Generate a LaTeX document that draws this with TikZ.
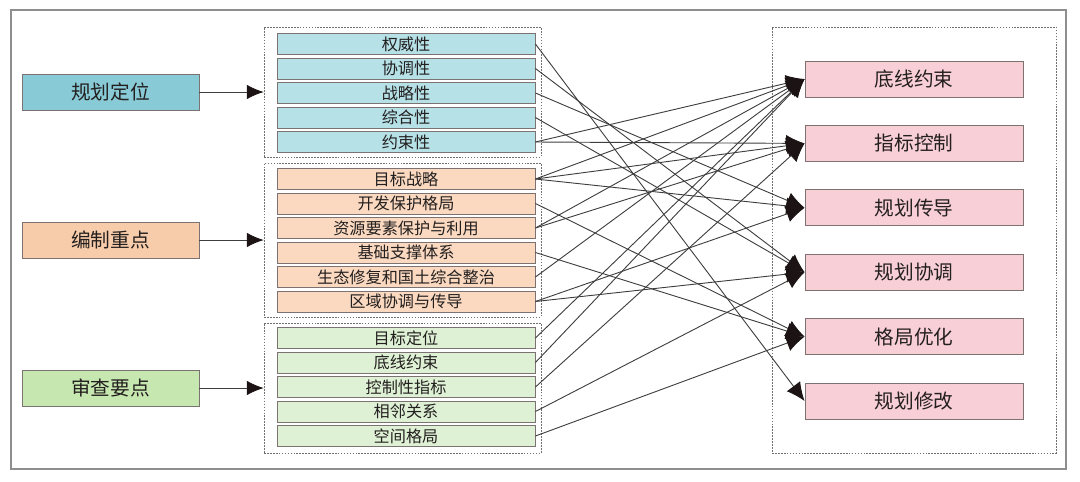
\documentclass[tikz,border=0pt]{standalone}
\usepackage{fontspec}
\setmainfont{Noto Sans CJK SC}
\usetikzlibrary{positioning,arrows.meta,fit}
\definecolor{frameGray}{HTML}{8E8E8E}
\definecolor{textDark}{HTML}{231F1F}
\definecolor{lineEdge}{HTML}{7D7272}
\definecolor{lineFlow}{HTML}{3E3E3E}
\definecolor{tipDark}{HTML}{1C1414}
\definecolor{lineDash}{HTML}{6F6F6F}
\definecolor{blueHead}{HTML}{88CBD7}
\definecolor{blueItem}{HTML}{B6E1E7}
\definecolor{orangeHead}{HTML}{F7CCAA}
\definecolor{orangeItem}{HTML}{FAD9C0}
\definecolor{greenHead}{HTML}{C6E7B0}
\definecolor{greenItem}{HTML}{DEF1D5}
\definecolor{pinkGoal}{HTML}{F8CFD7}

\begin{document}
\begin{tikzpicture}[
          every node/.style={text=textDark,align=center,inner sep=0pt},
          head/.style={draw=lineEdge,line width=0.6pt,
                       minimum width=4.425cm,minimum height=0.9cm,
                       font=\fontsize{14pt}{16pt}\selectfont},
          item/.style={draw=lineEdge,line width=0.6pt,
                       minimum width=6.45cm,minimum height=0.525cm,
                       font=\fontsize{11.5pt}{13pt}\selectfont},
          goal/.style={draw=lineEdge,line width=0.6pt,fill=pinkGoal,
                       minimum width=5.45cm,minimum height=0.9cm,
                       font=\fontsize{14pt}{16pt}\selectfont},
          grp/.style={draw=lineDash,line width=0.4pt,
                      dash pattern=on 1.2pt off 0.9pt},
          flow/.style={draw=lineFlow,line width=0.65pt,
                       -{Latex[length=0.42cm,width=0.36cm,color=tipDark]}},
          link/.style={draw=lineFlow,line width=0.65pt,
                       -{Latex[length=0.46cm,width=0.42cm,color=tipDark]}},
        ]
        \useasboundingbox (0,0) rectangle (27,-12.025);
        \draw[frameGray,line width=1pt] (0.275,-0.25) rectangle (26.65,-11.725);

        % dashed groups
        \node[grp,fit={(6.6,-0.675) (13.525,-3.925)}] (g1) {};
        \node[grp,fit={(6.6,-4.075) (13.525,-7.925)}] (g2) {};
        \node[grp,fit={(6.6,-8.075) (13.525,-11.325)}] (g3) {};
        \node[grp,fit={(19.3,-0.675) (26.4,-11.325)}] (g4) {};

        \node[head,fill=blueHead] (h1) at (2.7625,-2.3) {规划定位};
        \node[head,fill=orangeHead] (h2) at (2.7625,-6.0) {编制重点};
        \node[head,fill=greenHead] (h3) at (2.7625,-9.7) {审查要点};

        \node[item,fill=blueItem] (a1) at (10.15,-1.1) {权威性};
        \node[item,fill=blueItem] (a2) at (10.15,-1.7125) {协调性};
        \node[item,fill=blueItem] (a3) at (10.15,-2.325) {战略性};
        \node[item,fill=blueItem] (a4) at (10.15,-2.9375) {综合性};
        \node[item,fill=blueItem] (a5) at (10.15,-3.55) {约束性};

        \node[item,fill=orangeItem] (b1) at (10.15,-4.475) {目标战略};
        \node[item,fill=orangeItem] (b2) at (10.15,-5.0875) {开发保护格局};
        \node[item,fill=orangeItem] (b3) at (10.15,-5.7) {资源要素保护与利用};
        \node[item,fill=orangeItem] (b4) at (10.15,-6.3125) {基础支撑体系};
        \node[item,fill=orangeItem] (b5) at (10.15,-6.925) {生态修复和国土综合整治};
        \node[item,fill=orangeItem] (b6) at (10.15,-7.5375) {区域协调与传导};

        \node[item,fill=greenItem] (c1) at (10.15,-8.45) {目标定位};
        \node[item,fill=greenItem] (c2) at (10.15,-9.0625) {底线约束};
        \node[item,fill=greenItem] (c3) at (10.15,-9.675) {控制性指标};
        \node[item,fill=greenItem] (c4) at (10.15,-10.2875) {相邻关系};
        \node[item,fill=greenItem] (c5) at (10.15,-10.9) {空间格局};

        \node[goal] (r1) at (22.85,-1.975) {底线约束};
        \node[goal] (r2) at (22.85,-3.585) {指标控制};
        \node[goal] (r3) at (22.85,-5.195) {规划传导};
        \node[goal] (r4) at (22.85,-6.805) {规划协调};
        \node[goal] (r5) at (22.85,-8.415) {格局优化};
        \node[goal] (r6) at (22.85,-10.025) {规划修改};

        \draw[flow] (h1.east) -- (h1.east -| g1.west);
        \draw[flow] (h2.east) -- (h2.east -| g2.west);
        \draw[flow] (h3.east) -- (h3.east -| g3.west);

        % item to goal links
        \draw[link] (a1.east) -- (r6.west);
        \draw[link] (a2.east) -- (r4.west);
        \draw[link] (a3.east) -- (r3.west);
        \draw[link] (a4.east) -- (r4.west);
        \draw[link] (a5.east) -- (r1.west);
        \draw[link] (a5.east) -- (r2.west);
        \draw[link] (b1.east) -- (r1.west);
        \draw[link] (b1.east) -- (r2.west);
        \draw[link] (b1.east) -- (r3.west);
        \draw[link] (b2.east) -- (r5.west);
        \draw[link] (b3.east) -- (r1.west);
        \draw[link] (b3.east) -- (r2.west);
        \draw[link] (b4.east) -- (r5.west);
        \draw[link] (b5.east) -- (r1.west);
        \draw[link] (b6.east) -- (r3.west);
        \draw[link] (b6.east) -- (r4.west);
        \draw[link] (c1.east) -- (r1.west);
        \draw[link] (c2.east) -- (r1.west);
        \draw[link] (c3.east) -- (r2.west);
        \draw[link] (c4.east) -- (r4.west);
        \draw[link] (c5.east) -- (r5.west);
      \end{tikzpicture}
\end{document}
